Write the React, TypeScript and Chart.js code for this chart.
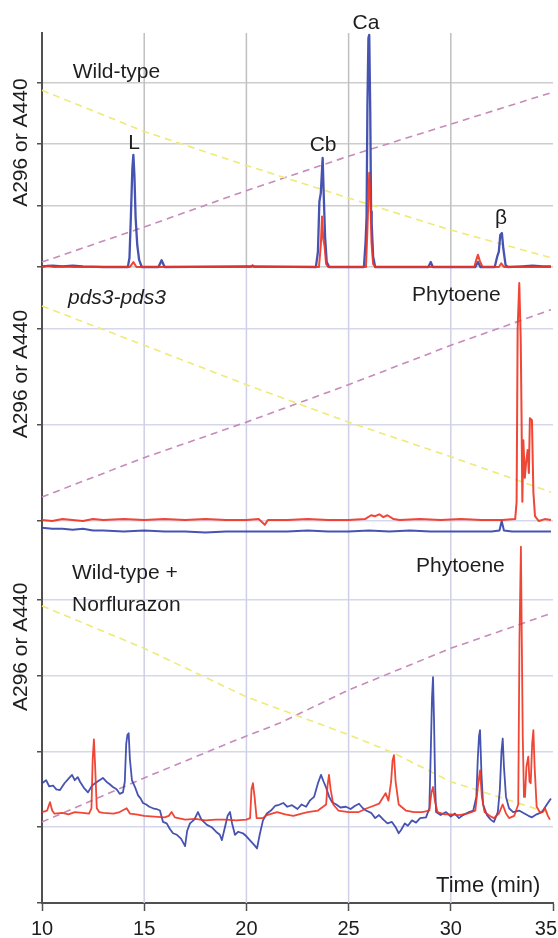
import React, { useEffect, useRef } from 'react';
import { Chart, registerables } from 'chart.js';

Chart.register(...registerables);

// ---------- axes ----------
const X_MIN = 10;
const X_MAX = 35;
const xTickValues = [10, 15, 20, 25, 30, 35];
const xTickLabels = ['10', '15', '20', '25', '30', '35'];
const xGridValues = [15, 20, 25, 30];

const p1Range = [0, 3.8];
const p1Ticks = [0, 1, 2, 3];
const p2Range = [0, 2.646];
const p2Ticks = [0, 1, 2];
const p3Range = [-1, 4.04];
const p3Ticks = [-1, 0, 1, 2, 3];

const yTitle = 'A296 or A440';
const xTitle = 'Time (min)';

// ---------- panel 1 : Wild-type ----------
const wtBlue = [
  [10, 0.01], [10.5, 0.02], [11, 0.01], [11.5, 0.02], [12, 0.01], [13, 0], [14.2, 0], [14.28, 0.15],
  [14.35, 0.84], [14.42, 1.6], [14.47, 1.82], [14.52, 1.5], [14.58, 0.8], [14.66, 0.36], [14.75, 0.12],
  [14.88, 0], [15.7, 0], [15.85, 0.11], [16.0, 0], [20, 0.01], [23.4, 0], [23.5, 0.25], [23.57, 1.06],
  [23.64, 1.2], [23.73, 1.77], [23.79, 1.1], [23.85, 0.49], [23.93, 0.08], [24.05, 0], [25.75, 0],
  [25.83, 0.4], [25.88, 0.82], [25.92, 2.6], [25.97, 3.72], [26.01, 3.77], [26.06, 2.5], [26.1, 0.9],
  [26.13, 0.7], [26.2, 0.17], [26.3, 0], [28.9, 0], [29.02, 0.08], [29.12, 0], [31.2, 0], [31.33, 0.08],
  [31.45, 0], [32.15, 0], [32.27, 0.17], [32.35, 0.25], [32.42, 0.52], [32.5, 0.55], [32.57, 0.3],
  [32.68, 0.03], [32.8, 0], [33.5, 0.01], [34, 0.02], [34.5, 0.01], [34.9, 0.01],
];
const wtRed = [
  [10, 0], [10.3, 0.02], [10.6, 0], [11.2, 0.01], [11.6, 0], [14.3, 0], [14.47, 0.08], [14.62, 0],
  [20.2, 0], [20.3, 0.03], [20.4, 0], [23.55, 0], [23.64, 0.35], [23.7, 0.82], [23.76, 0.45],
  [23.82, 0.35], [23.9, 0.05], [24.0, 0], [25.85, 0], [25.92, 0.6], [25.97, 1.14], [26.01, 1.53],
  [26.06, 1.2], [26.12, 0.4], [26.2, 0.05], [26.3, 0], [31.15, 0], [31.25, 0.12], [31.33, 0.2],
  [31.42, 0.1], [31.55, 0], [32.35, 0], [32.47, 0.06], [32.6, 0], [34.9, 0],
];
const wtGradA = [[10, 2.87], [15, 2.2], [20, 1.65], [25, 1.12], [30, 0.6], [34.9, 0.15]];
const wtGradB = [[10, 0.08], [15, 0.65], [20, 1.24], [25, 1.8], [30, 2.32], [34.9, 2.83]];

// ---------- panel 2 : pds3-pds3 ----------
const pdsRed = [
  [10, 0.01], [10.5, 0.0], [11, 0.02], [11.5, 0.01], [12, 0.0], [12.5, 0.02], [13, 0.01], [14, 0.02],
  [15, 0.01], [16, 0.02], [17, 0.01], [18, 0.02], [19, 0.01], [20, 0.01], [20.6, 0.02], [20.9, -0.04],
  [21.05, 0.01], [22, 0.01], [23, 0.02], [24, 0.01], [25, 0.01], [25.8, 0.02], [26.1, 0.06],
  [26.3, 0.05], [26.5, 0.07], [26.7, 0.04], [26.9, 0.06], [27.2, 0.02], [27.5, 0.01], [28.5, 0.02],
  [29.5, 0.01], [30.5, 0.02], [31.5, 0.01], [32.5, 0.01], [33.15, 0.02], [33.22, 0.2], [33.27, 2.0],
  [33.35, 2.48], [33.42, 1.9], [33.46, 1.12], [33.5, 0.2], [33.55, 0.84], [33.62, 0.45], [33.68, 0.6],
  [33.76, 0.74], [33.82, 0.5], [33.87, 1.07], [33.97, 1.05], [34.04, 0.3], [34.12, 0.05], [34.3, 0.0],
  [34.6, 0.02], [34.9, 0.01],
];
const pdsBlue = [
  [10, -0.07], [10.5, -0.08], [11, -0.08], [11.5, -0.09], [12, -0.08], [12.5, -0.1], [13, -0.1],
  [14, -0.11], [15, -0.1], [16, -0.11], [17, -0.11], [18, -0.12], [19, -0.11], [20, -0.11], [21, -0.11],
  [22, -0.11], [23, -0.1], [24, -0.11], [25, -0.11], [26, -0.1], [27, -0.11], [28, -0.1], [29, -0.11],
  [30, -0.11], [31, -0.11], [32, -0.11], [32.38, -0.1], [32.49, 0.0], [32.6, -0.1], [33, -0.11],
  [34, -0.11], [34.9, -0.11],
];
const pdsGradA = [[10, 2.24], [15, 1.83], [20, 1.42], [25, 1.03], [30, 0.67], [34.9, 0.3]];
const pdsGradB = [[10, 0.25], [15, 0.66], [20, 1.03], [25, 1.42], [30, 1.83], [34.9, 2.2]];

// ---------- panel 3 : Wild-type + Norflurazon ----------
const nfBlue = [
  [10, 0.58], [10.2, 0.62], [10.35, 0.54], [10.54, 0.55], [10.7, 0.5], [10.88, 0.49], [11.1, 0.58],
  [11.3, 0.64], [11.47, 0.69], [11.6, 0.62], [11.75, 0.66], [11.86, 0.6], [12.05, 0.52], [12.25, 0.46],
  [12.45, 0.55], [12.7, 0.6], [12.98, 0.65], [13.15, 0.6], [13.3, 0.57], [13.47, 0.53], [13.65, 0.5],
  [13.8, 0.44], [13.96, 0.46], [14.05, 0.6], [14.12, 1.1], [14.18, 1.22], [14.24, 1.24], [14.3, 0.9],
  [14.4, 0.62], [14.55, 0.53], [14.7, 0.42], [14.82, 0.38], [14.94, 0.32], [15.1, 0.3], [15.25, 0.27],
  [15.43, 0.25], [15.6, 0.24], [15.77, 0.22], [15.92, 0.07], [16.1, 0.05], [16.25, -0.02], [16.41, -0.08],
  [16.6, -0.1], [16.8, -0.15], [17.0, -0.25], [17.1, -0.05], [17.24, 0.05], [17.45, 0.1], [17.63, 0.2],
  [17.8, 0.1], [18.07, 0.03], [18.3, 0.0], [18.56, -0.07], [18.7, -0.1], [18.8, -0.17], [18.95, 0.0],
  [19.08, 0.15], [19.2, 0.2], [19.3, 0.05], [19.44, -0.1], [19.6, -0.06], [19.83, -0.08], [20.0, -0.12],
  [20.2, -0.18], [20.4, -0.24], [20.52, -0.28], [20.65, -0.1], [20.81, 0.09], [21.0, 0.18], [21.2, 0.22],
  [21.4, 0.28], [21.55, 0.29], [21.8, 0.32], [22.0, 0.27], [22.23, 0.29], [22.5, 0.24], [22.7, 0.3],
  [22.92, 0.27], [23.1, 0.35], [23.31, 0.4], [23.5, 0.58], [23.65, 0.69], [23.78, 0.6], [23.89, 0.53],
  [24.05, 0.4], [24.19, 0.33], [24.4, 0.3], [24.6, 0.26], [24.87, 0.27], [25.1, 0.24], [25.3, 0.28],
  [25.51, 0.31], [25.7, 0.25], [25.85, 0.22], [26.1, 0.19], [26.3, 0.12], [26.49, 0.16], [26.7, 0.1],
  [26.9, 0.05], [27.12, 0.07], [27.3, 0.0], [27.45, -0.08], [27.56, -0.04], [27.75, 0.05], [27.9, 0.02],
  [28.1, 0.09], [28.3, 0.06], [28.5, 0.12], [28.79, 0.13], [28.95, 0.25], [29.02, 1.0], [29.08, 1.7],
  [29.13, 1.98], [29.18, 1.4], [29.24, 0.5], [29.28, 0.2], [29.5, 0.16], [29.77, 0.2], [30.0, 0.14],
  [30.2, 0.18], [30.4, 0.12], [30.6, 0.16], [30.89, 0.2], [31.1, 0.22], [31.25, 0.4], [31.32, 0.9],
  [31.38, 1.2], [31.43, 1.28], [31.5, 0.7], [31.58, 0.3], [31.77, 0.16], [31.95, 0.1], [32.11, 0.07],
  [32.3, 0.2], [32.4, 0.5], [32.48, 1.0], [32.54, 1.17], [32.6, 0.8], [32.7, 0.4], [32.85, 0.25],
  [33.05, 0.2], [33.34, 0.22], [33.6, 0.18], [33.8, 0.15], [33.97, 0.13], [34.2, 0.17], [34.46, 0.2],
  [34.7, 0.3], [34.9, 0.38],
];
const nfRed = [
  [10, 0.2], [10.25, 0.22], [10.39, 0.33], [10.5, 0.22], [10.6, 0.18], [11.0, 0.19], [11.3, 0.17],
  [11.6, 0.2], [12.0, 0.19], [12.3, 0.18], [12.42, 0.25], [12.48, 0.9], [12.54, 1.16], [12.6, 0.8],
  [12.68, 0.25], [12.8, 0.2], [13.0, 0.19], [13.5, 0.18], [13.8, 0.2], [14.14, 0.25], [14.3, 0.18],
  [14.6, 0.17], [15.0, 0.15], [15.5, 0.14], [16.0, 0.13], [16.2, 0.15], [16.34, 0.2], [16.5, 0.13],
  [17.0, 0.1], [17.5, 0.11], [18.0, 0.09], [18.5, 0.1], [19.0, 0.1], [19.5, 0.09], [20.0, 0.1],
  [20.18, 0.12], [20.25, 0.5], [20.32, 0.58], [20.4, 0.4], [20.5, 0.12], [20.8, 0.12], [21.0, 0.16],
  [21.5, 0.2], [21.9, 0.17], [22.3, 0.15], [22.7, 0.18], [23.0, 0.2], [23.5, 0.22], [23.9, 0.3],
  [23.97, 0.55], [24.04, 0.69], [24.12, 0.5], [24.25, 0.3], [24.5, 0.22], [25.0, 0.2], [25.5, 0.2],
  [25.9, 0.25], [26.2, 0.28], [26.49, 0.31], [26.65, 0.38], [26.81, 0.45], [26.95, 0.35], [27.08, 0.6],
  [27.15, 0.88], [27.22, 0.95], [27.3, 0.6], [27.45, 0.3], [27.8, 0.22], [28.2, 0.2], [28.6, 0.2],
  [28.95, 0.22], [29.05, 0.45], [29.13, 0.53], [29.22, 0.35], [29.35, 0.2], [29.7, 0.17], [30.0, 0.17],
  [30.4, 0.16], [30.8, 0.18], [31.2, 0.22], [31.33, 0.55], [31.43, 0.75], [31.52, 0.4], [31.65, 0.2],
  [31.9, 0.15], [32.1, 0.12], [32.35, 0.18], [32.54, 0.3], [32.7, 0.18], [32.85, 0.12], [33.1, 0.15],
  [33.3, 0.3], [33.36, 2.5], [33.43, 3.7], [33.47, 2.56], [33.52, 1.2], [33.58, 0.4], [33.63, 0.4],
  [33.7, 0.8], [33.79, 0.93], [33.85, 0.6], [33.91, 0.58], [33.98, 1.1], [34.04, 1.28], [34.1, 0.8],
  [34.2, 0.27], [34.35, 0.2], [34.5, 0.2], [34.61, 0.25], [34.75, 0.15], [34.85, 0.1],
];
const nfGradA = [[10, 2.92], [15, 2.36], [20, 1.72], [25, 1.22], [27.2, 0.98], [30, 0.6], [34.9, 0.18]];
const nfGradB = [[10, 0.07], [15, 0.65], [19.5, 1.15], [21.6, 1.37], [25, 1.81], [30, 2.36], [34.9, 2.82]];

// ---------- text annotations (data coordinates) ----------
const annotations = [
  { axis: 'y1', text: 'Wild-type', x: 11.5, y: 3.17, align: 'left', italic: false },
  { axis: 'y1', text: 'L', x: 14.5, y: 2.01, align: 'center', italic: false },
  { axis: 'y1', text: 'Cb', x: 23.75, y: 1.98, align: 'center', italic: false },
  { axis: 'y1', text: 'Ca', x: 25.85, y: 3.96, align: 'center', italic: false },
  { axis: 'y1', text: 'β', x: 32.46, y: 0.8, align: 'center', italic: false },
  { axis: 'y2', text: 'pds3-pds3', x: 11.27, y: 2.32, align: 'left', italic: true },
  { axis: 'y2', text: 'Phytoene', x: 28.1, y: 2.35, align: 'left', italic: false },
  { axis: 'y3', text: 'Wild-type +', x: 11.47, y: 3.35, align: 'left', italic: false },
  { axis: 'y3', text: 'Norflurazon', x: 11.47, y: 2.93, align: 'left', italic: false },
  { axis: 'y3', text: 'Phytoene', x: 28.3, y: 3.45, align: 'left', italic: false },
];
const yTitleAt = { y1: 2.02, y2: 1.53, y3: 2.38 };
const xTitleAt = { x: 29.28, y: -0.77 };

const FONT = '"Liberation Sans", Arial, Helvetica, sans-serif';
const BLUE = 'rgba(50,64,168,0.9)';
const RED = 'rgba(238,50,32,0.9)';
const YELLOW = '#efea78';
const PURPLE = '#c68bbb';
const GRAY_GRID = '#cdcdcd';
const GRAY_VGRID = '#bfbfbf';
const LAV_GRID = '#d7d7ec';
const LAV_VGRID = '#cfcfe7';
const AXIS = '#505050';

const panels = [
  { id: 'y1', vgrid: GRAY_VGRID },
  { id: 'y2', vgrid: LAV_VGRID },
  { id: 'y3', vgrid: LAV_VGRID },
];

const toXY = (arr: number[][]) => arr.map(([x, y]) => ({ x, y }));

function trace(label: string, data: number[][], axis: string, color: string, order: number, width: number) {
  return {
    label, data: toXY(data), yAxisID: axis, xAxisID: 'x', borderColor: color,
    borderWidth: width, pointRadius: 0, tension: 0, fill: false, order, clip: false,
    borderJoinStyle: 'round',
  };
}
function gradient(label: string, data: number[][], axis: string, color: string) {
  return {
    label, data: toXY(data), yAxisID: axis, xAxisID: 'x', borderColor: color,
    borderWidth: 1.6, borderDash: [7, 5], pointRadius: 0, tension: 0, fill: false, order: 5, clip: false,
  };
}

const panelPlugin = {
  id: 'panelDecor',
  beforeDatasetsDraw(chart: any) {
    const ctx = chart.ctx;
    const xs = chart.scales.x;
    panels.forEach((p) => {
      const ys = chart.scales[p.id];
      ctx.save();
      ctx.strokeStyle = p.vgrid;
      ctx.lineWidth = 1.5;
      xGridValues.forEach((v) => {
        const px = xs.getPixelForValue(v);
        ctx.beginPath();
        ctx.moveTo(px, ys.top);
        ctx.lineTo(px, ys.bottom);
        ctx.stroke();
      });
      ctx.restore();
    });
  },
  afterDatasetsDraw(chart: any) {
    const ctx = chart.ctx;
    const xs = chart.scales.x;
    ctx.save();
    ctx.fillStyle = '#1e1e1e';
    ctx.textBaseline = 'middle';
    annotations.forEach((a) => {
      const ys = chart.scales[a.axis];
      ctx.font = (a.italic ? 'italic ' : '') + '21px ' + FONT;
      ctx.textAlign = a.align;
      ctx.fillText(a.text, xs.getPixelForValue(a.x), ys.getPixelForValue(a.y));
    });
    // y titles
    ctx.font = '21px ' + FONT;
    ctx.textAlign = 'center';
    Object.keys(yTitleAt).forEach((k) => {
      const ys = chart.scales[k];
      ctx.save();
      ctx.translate(21, ys.getPixelForValue((yTitleAt as any)[k]));
      ctx.rotate(-Math.PI / 2);
      ctx.fillText(yTitle, 0, 0);
      ctx.restore();
    });
    // x title
    ctx.font = '22px ' + FONT;
    ctx.textAlign = 'left';
    ctx.fillText(xTitle, xs.getPixelForValue(xTitleAt.x), chart.scales.y3.getPixelForValue(xTitleAt.y));
    // x tick labels
    ctx.font = '20px ' + FONT;
    ctx.textAlign = 'center';
    xTickValues.forEach((v, i) => {
      const label = xTickLabels[i];
      const w = ctx.measureText(label).width;
      let px = xs.getPixelForValue(v);
      px = Math.min(Math.max(px, w / 2 + 1), chart.width - w / 2 - 1);
      ctx.fillText(label, px, xs.top + 26);
    });
    ctx.restore();
  },
};

function yScale(range: number[], ticks: number[], weight: number, stackWeight: number, gridColor: string) {
  return {
    type: 'linear',
    position: 'left',
    stack: 'panels',
    stackWeight,
    weight,
    min: range[0],
    max: range[1],
    afterBuildTicks: (scale: any) => {
      scale.ticks = ticks.map((v) => ({ value: v }));
    },
    afterFit: (scale: any) => {
      scale.width = 42;
    },
    ticks: { display: false },
    grid: {
      color: (c: any) => (c.tick && c.tick.value === -1 ? 'rgba(0,0,0,0)' : gridColor),
      lineWidth: 1.5,
      drawTicks: true,
      tickLength: 5,
      tickColor: AXIS,
      tickWidth: 1.5,
    },
    border: { display: true, color: AXIS, width: 2 },
  };
}

export default function App() {
  const ref = useRef<HTMLCanvasElement | null>(null);
  useEffect(() => {
    if (!ref.current) return;
    const chart = new Chart(ref.current, {
      type: 'line',
      data: {
        datasets: [
          trace('WT A296', wtRed, 'y1', RED, 0, 2),
          trace('WT A440', wtBlue, 'y1', BLUE, 1, 2.3),
          gradient('WT grad A', wtGradA, 'y1', YELLOW),
          gradient('WT grad B', wtGradB, 'y1', PURPLE),
          trace('pds3 A296', pdsRed, 'y2', RED, 0, 2),
          trace('pds3 A440', pdsBlue, 'y2', BLUE, 1, 2),
          gradient('pds3 grad A', pdsGradA, 'y2', YELLOW),
          gradient('pds3 grad B', pdsGradB, 'y2', PURPLE),
          trace('NF A296', nfRed, 'y3', RED, 0, 1.8),
          trace('NF A440', nfBlue, 'y3', BLUE, 1, 1.8),
          gradient('NF grad A', nfGradA, 'y3', YELLOW),
          gradient('NF grad B', nfGradB, 'y3', PURPLE),
        ] as any,
      },
      options: {
        responsive: false,
        animation: false,
        events: [],
        layout: { padding: { top: 33, right: 5, bottom: 0, left: 0 } },
        plugins: { legend: { display: false }, tooltip: { enabled: false }, title: { display: false } },
        scales: {
          x: {
            type: 'linear',
            min: X_MIN,
            max: X_MAX,
            afterBuildTicks: (scale: any) => {
              scale.ticks = xTickValues.map((v) => ({ value: v }));
            },
            afterFit: (scale: any) => {
              scale.height = 35;
              scale.paddingLeft = 0;
              scale.paddingRight = 0;
            },
            ticks: { display: false },
            grid: {
              drawOnChartArea: false,
              drawTicks: true,
              tickLength: 8,
              tickColor: AXIS,
              tickWidth: 1.5,
              color: 'rgba(0,0,0,0)',
            },
            border: { display: true, color: AXIS, width: 2 },
          },
          y3: yScale(p3Range, p3Ticks, 1, 382, LAV_GRID),
          y2: yScale(p2Range, p2Ticks, 2, 254, LAV_GRID),
          y1: yScale(p1Range, p1Ticks, 3, 234, GRAY_GRID),
        } as any,
      },
      plugins: [panelPlugin as any],
    });
    return () => chart.destroy();
  }, []);

  return (
    <div style={{ position: 'fixed', left: 0, top: 0, width: 558, height: 938, background: '#fff' }}>
      <canvas ref={ref} width={558} height={938} style={{ display: 'block', width: 558, height: 938 }} />
    </div>
  );
}
